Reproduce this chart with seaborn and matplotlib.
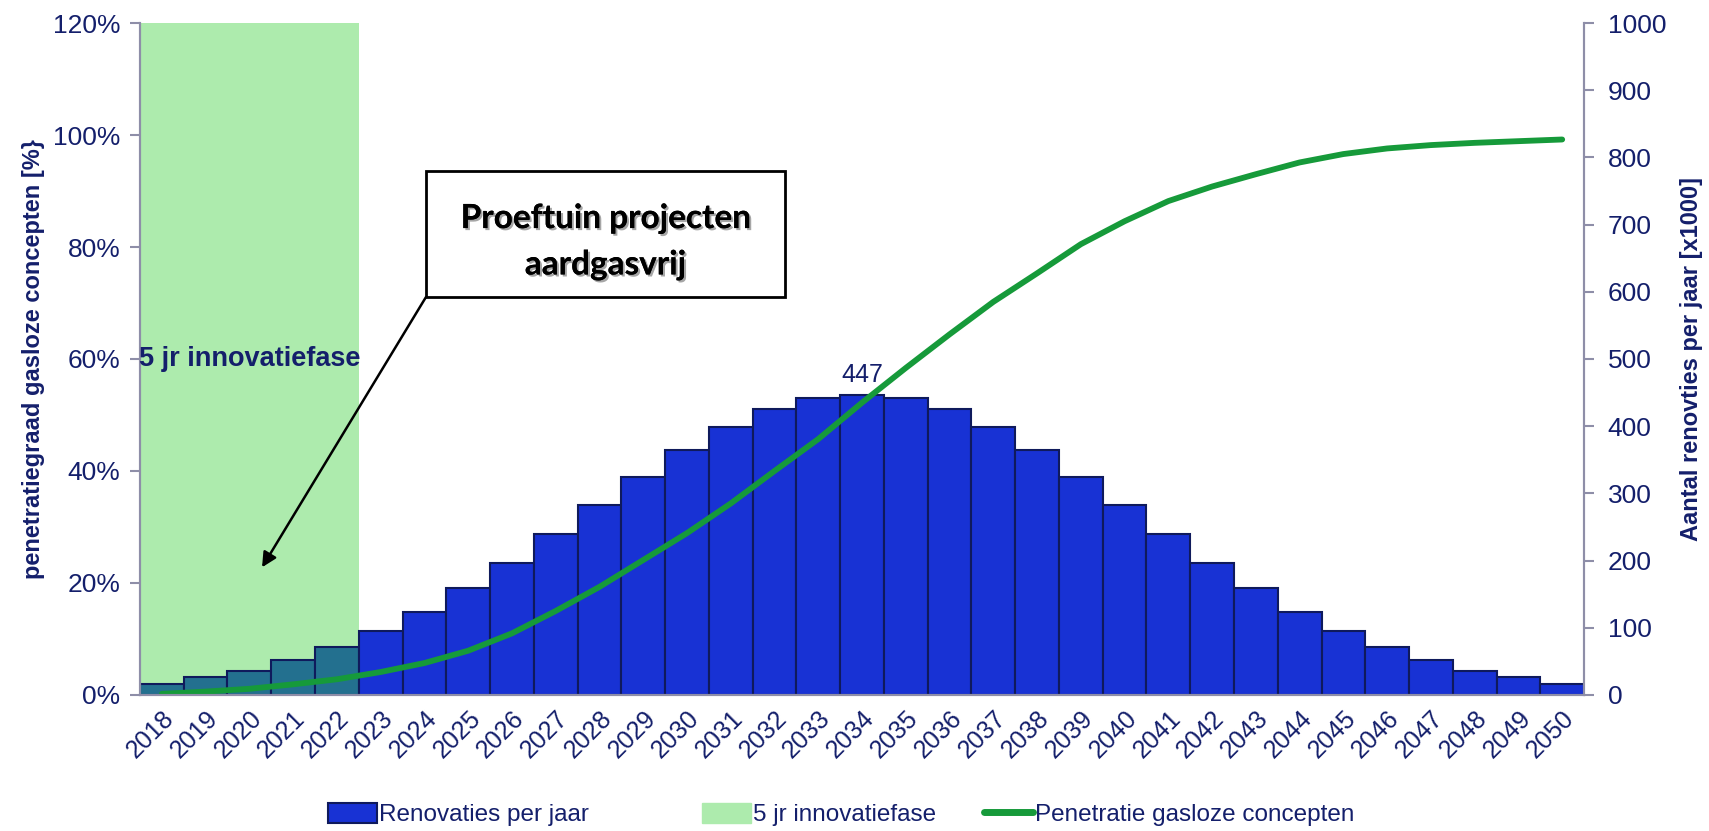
import numpy as np
import pandas as pd
import matplotlib
matplotlib.use("Agg")
import matplotlib.pyplot as plt
import matplotlib.patches as mpatches
import matplotlib.patheffects as pe
from matplotlib.lines import Line2D
import seaborn as sns

# ── Data ──────────────────────────────────────────────────────
YEARS = [str(y) for y in range(2018, 2051)]
RENOVATIES = [17, 26, 36, 52, 71, 95, 124, 159, 197, 239, 282, 324, 364, 399,
              425, 442, 447, 442, 425, 399, 364, 324, 282, 239, 197, 159, 124,
              95, 71, 52, 36, 26, 17]
PENETRATIE = [0.2, 0.6, 1.1, 1.9, 2.8, 4.1, 5.7, 7.9, 11.0, 15.0, 19.3, 24.1,
              28.9, 34.2, 40.0, 45.7, 52.2, 58.4, 64.4, 70.2, 75.3, 80.5, 84.6,
              88.2, 90.8, 93.0, 95.1, 96.6, 97.6, 98.2, 98.6, 98.9, 99.2]
INNOVATIE_JAREN = 5
PEAK_LABEL = "447"

NAVY = "#141F6B"
BLUE = "#1832D4"
TEAL = "#23708F"
LIGHTGREEN = "#ADEBAD"
LINEGREEN = "#169A3A"
AXISGREY = "#8E8EA8"

sns.set_style("white")
plt.rcParams["font.family"] = ["Liberation Sans", "DejaVu Sans"]

df = pd.DataFrame({"jaar": YEARS, "renovaties": RENOVATIES, "pct": PENETRATIE})
df["pos"] = np.arange(len(df))

fig = plt.figure(figsize=(17.09, 8.31), dpi=100)
ax = fig.add_axes([0.0819, 0.1637, 0.845, 0.8086])

# green innovation phase band
ax.axvspan(-0.5, INNOVATIE_JAREN - 0.5, color=LIGHTGREEN, zorder=0, lw=0)

bar_colors = [TEAL if i < INNOVATIE_JAREN else BLUE for i in range(len(df))]
sns.barplot(data=df, x="jaar", y="renovaties", hue="jaar", palette=bar_colors,
            legend=False, width=1.0, saturation=1, edgecolor="#0F1A5C",
            linewidth=1.5, ax=ax, zorder=2)
ax.set_ylim(0, 1000)
ax.set_xlim(-0.5, len(df) - 0.5)
ax.set_xlabel("")

peak = int(np.argmax(RENOVATIES))
ax.text(peak, RENOVATIES[peak] + 12, PEAK_LABEL, ha="center", va="bottom",
        fontsize=18, color=NAVY)

# x ticks: edges as ticks, labels at bar centres
ax.set_xticks(np.arange(len(df)))
ax.set_xticklabels(YEARS, rotation=45, ha="right", rotation_mode="anchor",
                   fontsize=18, color=NAVY)
ax.tick_params(axis="x", which="major", length=0, pad=8)
ax.set_xticks(np.arange(-0.5, len(df)), minor=True)
ax.tick_params(axis="x", which="minor", length=7, color=AXISGREY, width=1.5)

# line on twin axis with left-side percentages
ax2 = ax.twinx()
sns.lineplot(data=df, x="pos", y="pct", color=LINEGREEN, lw=4.2, ax=ax2)
ax2.set_ylim(0, 120)
ax2.yaxis.tick_left()
ax2.yaxis.set_label_position("left")
ax2.set_yticks(range(0, 121, 20))
ax2.set_yticklabels([f"{v}%" for v in range(0, 121, 20)])
ax2.tick_params(axis="y", length=7, color=AXISGREY, width=1.5, labelsize=19,
                labelcolor=NAVY, pad=7)
ax2.set_ylabel("penetratiegraad gasloze concepten [%}", fontsize=17,
               fontweight="bold", color=NAVY, labelpad=6)
ax2.set_xlabel("")

# bar axis on the right (twinx moved it left)
ax.yaxis.tick_right()
ax.yaxis.set_label_position("right")
ax.set_yticks(range(0, 1001, 100))
ax.tick_params(axis="y", length=7, color=AXISGREY, width=1.5, labelsize=19,
               labelcolor=NAVY, pad=10)
ax.set_ylabel("Aantal renovties per jaar [x1000]", fontsize=17, fontweight="bold",
              color=NAVY, labelpad=10)

for a in (ax, ax2):
    a.spines["top"].set_visible(False)
    for s in ("left", "right", "bottom"):
        a.spines[s].set_color(AXISGREY)
        a.spines[s].set_linewidth(1.5)

ax2.text((INNOVATIE_JAREN - 1) / 2, 60, "5 jr innovatiefase", ha="center",
         va="center", fontsize=19.5, fontweight="bold", color=NAVY)

# callout box with arrow
box = mpatches.Rectangle((0.198, 0.592), 0.249, 0.188, transform=ax2.transAxes,
                         facecolor="white", edgecolor="black", lw=2, zorder=5)
ax2.add_patch(box)
shadow = [pe.withSimplePatchShadow(offset=(1.5, -1.5), alpha=0.35), pe.Normal()]
for txt, yy in (("Proeftuin projecten", 0.709), ("aardgasvrij", 0.640)):
    ax2.text(0.3225, yy, txt, transform=ax2.transAxes, ha="center", va="center",
             fontsize=24, fontweight="bold", color="black", zorder=6,
             family=["Lato", "DejaVu Sans"], path_effects=shadow)
ax2.annotate("", xy=(2.29, 22.8), xycoords="data",
             xytext=(0.198, 0.592), textcoords="axes fraction",
             arrowprops=dict(arrowstyle="-|>", color="black", lw=1.8,
                             mutation_scale=22, shrinkA=0, shrinkB=0),
             zorder=6)

# legend entries placed individually like the original
entries = [
    (mpatches.Patch(facecolor=BLUE, edgecolor="#0F1A5C", lw=1.5,
                    label="Renovaties per jaar"), 0.192),
    (mpatches.Patch(facecolor=LIGHTGREEN, edgecolor=LIGHTGREEN,
                    label="5 jr innovatiefase"), 0.411),
    (Line2D([0], [0], color=LINEGREEN, lw=5, solid_capstyle="round",
            label="Penetratie gasloze concepten"), 0.576),
]
for handle, xpos in entries:
    leg = fig.legend(handles=[handle], loc="center left",
                     bbox_to_anchor=(xpos, 0.02), frameon=False, fontsize=17.5,
                     handlelength=2.0, handleheight=0.9, handletextpad=0.1,
                     borderaxespad=0, borderpad=0)
    for t in leg.get_texts():
        t.set_color(NAVY)

plt.savefig("out.png", dpi=100)
plt.close()
